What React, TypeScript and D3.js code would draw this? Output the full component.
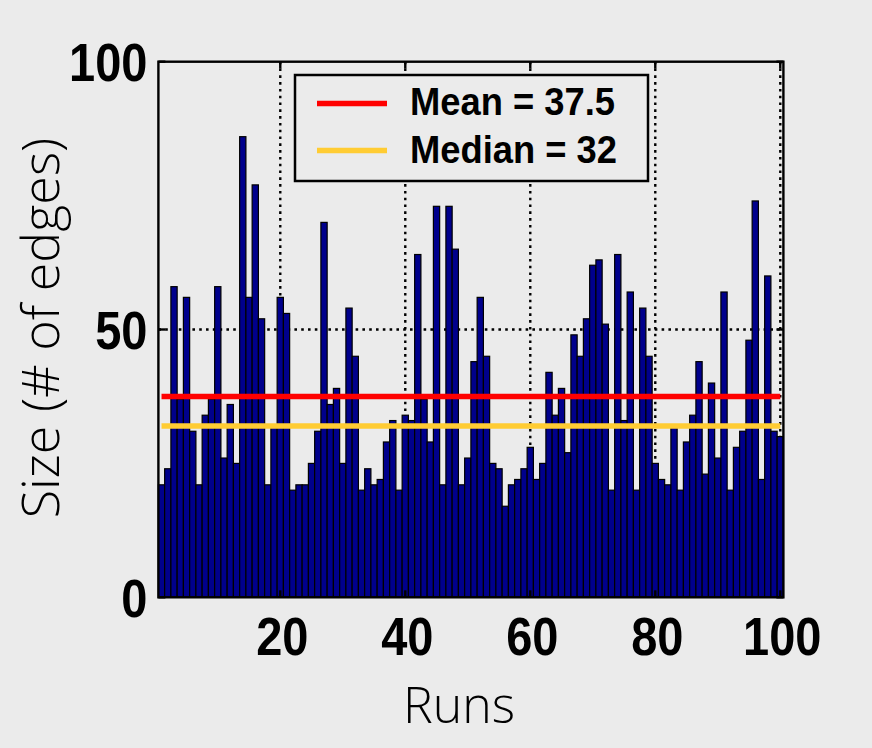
import React from "react";
import * as d3 from "d3";

const runs: number[] = d3.range(1, 101);
const sizes: number[] = [
  21, 24, 58, 37, 56, 31, 21, 34, 37, 58,
  26, 36, 25, 86, 56, 77, 52, 21, 32, 56,
  53, 20, 21, 21, 25, 31, 70, 36, 39, 25,
  54, 45, 20, 24, 21, 22, 29, 33, 20, 34,
  33, 64, 37, 29, 73, 21, 73, 65, 21, 26,
  44, 56, 45, 25, 24, 17, 21, 22, 24, 28,
  22, 25, 42, 34, 39, 27, 49, 45, 52, 62,
  63, 51, 20, 64, 33, 57, 20, 54, 45, 25,
  22, 21, 32, 20, 29, 34, 44, 23, 40, 26,
  57, 20, 28, 31, 48, 74, 22, 60, 31, 30,
];
const meanValue = 37.5;
const medianValue = 32;
const yTicks: number[] = [0, 50, 100];
const xTicks: number[] = [20, 40, 60, 80, 100];
const gridY: number[] = [50];
const gridX: number[] = [20, 40, 60, 80, 100];
const legendLabels: string[] = ["Mean = 37.5", "Median = 32"];
const legendColors: string[] = ["#ff0000", "#ffcc33"];

const W = 872;
const H = 748;
const BG = "#ebebeb";
const left = 158.4;
const right = 783.4;
const top = 61.7;
const bottom = 597.3;

export default function App() {
  const x = d3.scaleLinear().domain([0.5, 100.5]).range([left, right]);
  const y = d3.scaleLinear().domain([0, 100]).range([bottom, top]);
  const tickFont = "'Liberation Sans', Arial, Helvetica, sans-serif";
  const labelFont = "'Open Sans', 'Noto Sans', sans-serif";

  return (
    <div style={{ position: "absolute", left: 0, top: 0, width: W, height: H }}>
      <svg width={W} height={H} style={{ display: "block" }}>
        <rect x={0} y={0} width={W} height={H} fill={BG} />
        {/* grid lines */}
        {gridX.map((g) => (
          <line key={"gx" + g} x1={x(g)} x2={x(g)} y1={top} y2={bottom}
            stroke="#000" strokeWidth={2.4} strokeDasharray="2.6,4.2" />
        ))}
        {gridY.map((g) => (
          <line key={"gy" + g} x1={left} x2={right} y1={y(g)} y2={y(g)}
            stroke="#000" strokeWidth={2.4} strokeDasharray="2.6,4.2" />
        ))}
        {/* bars */}
        {runs.map((r, i) => (
          <rect key={"b" + r} x={x(r - 0.5)} y={y(sizes[i])}
            width={x(r + 0.5) - x(r - 0.5)} height={y(0) - y(sizes[i])}
            fill="#00008c" stroke="#000" strokeWidth={1.2} />
        ))}
        {/* mean / median lines */}
        <line x1={x(1)} x2={x(100)} y1={y(meanValue)} y2={y(meanValue)}
          stroke={legendColors[0]} strokeWidth={5.5} />
        <line x1={x(1)} x2={x(100)} y1={y(medianValue)} y2={y(medianValue)}
          stroke={legendColors[1]} strokeWidth={5.5} />
        {/* axes box */}
        <rect x={left} y={top} width={right - left} height={bottom - top}
          fill="none" stroke="#000" strokeWidth={2.4} />
        {/* ticks */}
        {yTicks.map((t) => (
          <g key={"yt" + t}>
            <line x1={left} x2={left + 7} y1={y(t)} y2={y(t)} stroke="#000" strokeWidth={2.4} />
            <line x1={right} x2={right - 7} y1={y(t)} y2={y(t)} stroke="#000" strokeWidth={2.4} />
            <text transform={`translate(${left - 11},${y(t) + 1}) scale(1,1.15)`}
              textAnchor="end" dominantBaseline="central"
              fontFamily={tickFont} fontWeight="bold" fontSize={47} fill="#000">{t}</text>
          </g>
        ))}
        {xTicks.map((t) => (
          <g key={"xt" + t}>
            <line x1={x(t)} x2={x(t)} y1={bottom} y2={bottom - 7} stroke="#000" strokeWidth={2.4} />
            <line x1={x(t)} x2={x(t)} y1={top} y2={top + 7} stroke="#000" strokeWidth={2.4} />
            <text transform={`translate(${x(t) + 2},${bottom + 39}) scale(1,1.15)`}
              textAnchor="middle" dominantBaseline="central"
              fontFamily={tickFont} fontWeight="bold" fontSize={47} fill="#000">{t}</text>
          </g>
        ))}
        {/* legend */}
        <rect x={295} y={75} width={353} height={106} fill={BG} stroke="#000" strokeWidth={2.5} />
        {legendLabels.map((lab, i) => (
          <g key={"lg" + i}>
            <line x1={317} x2={387} y1={103.5 + i * 47} y2={103.5 + i * 47}
              stroke={legendColors[i]} strokeWidth={5.5} />
            <text transform={`translate(410,${115 + i * 48}) scale(1.01,1.08)`}
              fontFamily={tickFont} fontWeight="bold" fontSize={36} fill="#000">{lab}</text>
          </g>
        ))}
        {/* axis labels */}
        <text x={459} y={723} textAnchor="middle" fontFamily={labelFont}
          fontWeight={300} fontSize={50} fill="#000">Runs</text>
        <text transform={`translate(59,328) rotate(-90)`} textAnchor="middle"
          fontFamily={labelFont} fontWeight={300} fontSize={52} fill="#000">Size (# of edges)</text>
      </svg>
    </div>
  );
}
